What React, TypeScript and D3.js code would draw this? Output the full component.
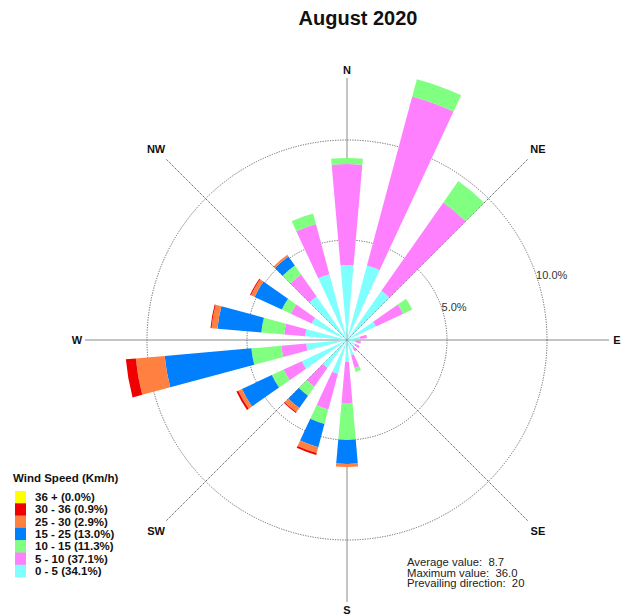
import React from "react";
import * as d3 from "d3";

// Wind rose, 18 sectors of 20 degrees, frequencies in percent per speed class
const directions = [0, 20, 40, 60, 80, 100, 120, 140, 160, 180, 200, 220, 240, 260, 280, 300, 320, 340];

const speedClasses = ["0 - 5", "5 - 10", "10 - 15", "15 - 25", "25 - 30", "30 - 36", "36 +"];
const classTotals = ["34.1%", "37.1%", "11.3%", "13.0%", "2.9%", "0.9%", "0.0%"];
const classColors = ["#80FFFF", "#FF80FF", "#80FF80", "#0080FF", "#FF8040", "#F00000", "#FFFF00"];

const speed0to5 = [3.75, 3.85, 3.0, 1.6, 0.65, 0.45, 0.45, 0.5, 0.8, 1.1, 1.75, 1.7, 2.5, 2.05, 2.1, 1.95, 2.65, 3.4];
const speed5to10 = [5.05, 8.75, 5.4, 1.5, 0.35, 0.25, 0.25, 0.2, 0.65, 2.05, 1.85, 1.15, 1.0, 1.25, 1.05, 1.15, 1.35, 2.6];
const speed10to15 = [0.3, 0.9, 1.3, 0.5, 0, 0, 0, 0, 0.2, 1.85, 0.75, 0.55, 0.65, 1.5, 1.15, 0.5, 0.55, 0.55];
const speed15to25 = [0, 0, 0, 0, 0, 0, 0, 0, 0, 1.2, 1.2, 0.75, 1.65, 4.35, 2.2, 1.5, 0.55, 0];
const speed25to30 = [0, 0, 0, 0, 0, 0, 0, 0, 0, 0.15, 0.3, 0.25, 0.2, 1.45, 0.3, 0.2, 0.1, 0];
const speed30to36 = [0, 0, 0, 0, 0, 0, 0, 0, 0, 0, 0.1, 0.05, 0.1, 0.5, 0.05, 0.05, 0, 0];
const speed36plus = [0, 0, 0, 0, 0, 0, 0, 0, 0, 0, 0, 0, 0, 0, 0, 0, 0, 0];

const ringTicks = [5, 10];
const compassPoints = ["N", "NE", "E", "SE", "S", "SW", "W", "NW"];

const statLines = ["Average value:  8.7", "Maximum value:  36.0", "Prevailing direction:  20"];

const W = 625;
const H = 616;
const cx = 347;
const cy = 340;
const font = "Liberation Sans, Arial, sans-serif";

export default function App() {
  const r = d3.scaleLinear().domain([0, 10]).range([0, 200]);
  const series = [speed0to5, speed5to10, speed10to15, speed15to25, speed25to30, speed30to36, speed36plus];
  const arc = d3.arc<any>();
  const deg = Math.PI / 180;

  const wedges: { d: string; fill: string; key: string }[] = [];
  directions.forEach((dir, i) => {
    let acc = 0;
    series.forEach((s, k) => {
      const v = s[i];
      if (v <= 0) return;
      const path = arc({
        innerRadius: r(acc),
        outerRadius: r(acc + v),
        startAngle: (dir - 5) * deg,
        endAngle: (dir + 5) * deg,
      }) as string;
      wedges.push({ d: path, fill: classColors[k], key: `${dir}-${k}` });
      acc += v;
    });
  });

  const pt = (angleDeg: number, radius: number) => [
    cx + radius * Math.sin(angleDeg * deg),
    cy - radius * Math.cos(angleDeg * deg),
  ];

  const legendTop = 491;
  const rowH = 12.3;
  const legendOrder = [6, 5, 4, 3, 2, 1, 0];

  return (
    <svg width={W} height={H} style={{ position: "absolute", left: 0, top: 0, background: "#fff" }}>
      <text x={358} y={25} textAnchor="middle" fontFamily={font} fontWeight="bold" fontSize={20} fill="#111">
        August 2020
      </text>

      {/* compass axes */}
      {compassPoints.map((p, i) => {
        const a = i * 45;
        const main = i % 2 === 0;
        const [x1, y1] = pt(a, main ? 262 : 256);
        return (
          <line
            key={p}
            x1={cx}
            y1={cy}
            x2={x1}
            y2={y1}
            stroke={main ? "#8a8a8a" : "#555"}
            strokeWidth={1}
            strokeDasharray={main ? undefined : "1.2,1"}
          />
        );
      })}

      {/* percentage rings */}
      {ringTicks.map((t) => (
        <circle key={t} cx={cx} cy={cy} r={r(t)} fill="none" stroke="#666" strokeWidth={1} strokeDasharray="1.2,1.3" />
      ))}

      <g transform={`translate(${cx},${cy})`}>
        {wedges.map((w) => (
          <path key={w.key} d={w.d} fill={w.fill} />
        ))}
      </g>

      {ringTicks.map((t) => {
        const [x, y] = pt(71, r(t));
        return (
          <text key={t} x={x} y={y + 4} fontFamily={font} fontSize={11} fill="#333">
            {t.toFixed(1)}%
          </text>
        );
      })}

      {compassPoints.map((p, i) => {
        const [x, y] = pt(i * 45, 270);
        return (
          <text
            key={p}
            x={x}
            y={y}
            textAnchor="middle"
            dominantBaseline="central"
            fontFamily={font}
            fontWeight="bold"
            fontSize={11}
            fill="#111"
          >
            {p}
          </text>
        );
      })}

      {/* legend */}
      <text x={13} y={482} fontFamily={font} fontWeight="bold" fontSize={11.5} fill="#111">
        Wind Speed (Km/h)
      </text>
      {legendOrder.map((k, row) => (
        <g key={k}>
          <rect x={15} y={legendTop + row * rowH} width={11} height={rowH + 0.3} fill={classColors[k]} />
          <text x={35} y={legendTop + row * rowH + 10} fontFamily={font} fontWeight="bold" fontSize={11.5} fill="#111">
            {`${speedClasses[k]} (${classTotals[k]})`}
          </text>
        </g>
      ))}

      {statLines.map((s, i) => (
        <text key={s} x={407} y={566 + i * 10.5} fontFamily={font} fontSize={11.3} fill="#222" xmlSpace="preserve">
          {s}
        </text>
      ))}
    </svg>
  );
}
